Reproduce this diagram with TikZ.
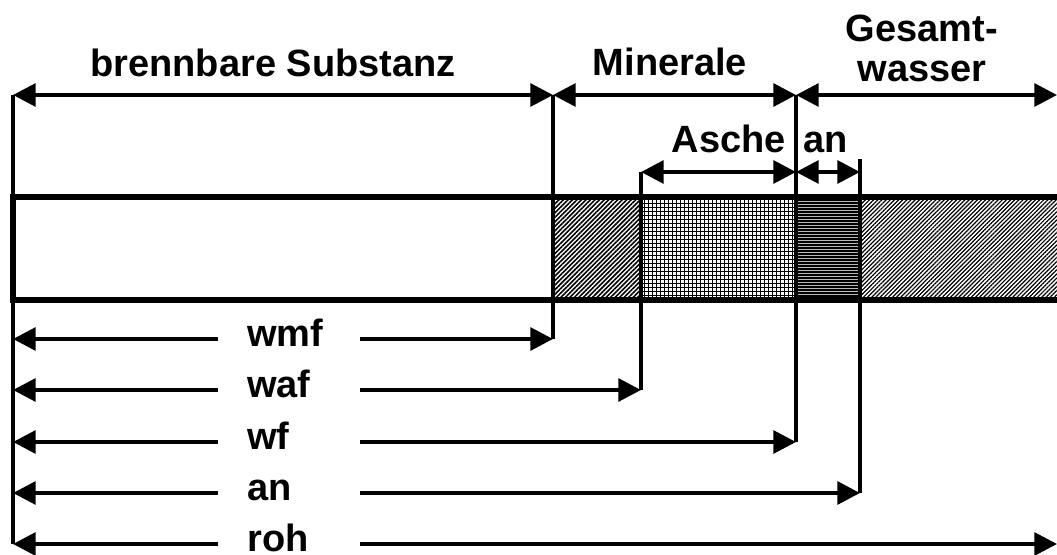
\documentclass[tikz,border=0pt]{standalone}
\usepackage{fontspec}
\setmainfont{Liberation Sans}
\usetikzlibrary{arrows.meta,patterns.meta}
\begin{document}
\begin{tikzpicture}[x=.75pt,y=-.75pt,
	>={Triangle[length=17pt,width=17pt]},
	lbl/.style={font=\fontsize{28.5}{25}\selectfont\bfseries,inner sep=0pt},
	dim/.style={line width=3pt}]
	\useasboundingbox(0,0)rectangle(1057,555);
	% fillings of the bar
	\fill[pattern={Lines[angle=45,distance=2.4pt,line width=1.2pt]}](553,197)rectangle(641,300);
	\fill[pattern={Hatch[distance=3pt,line width=.35pt]}](641,197)rectangle(796,300);
	\fill[gray!55](796,197)rectangle(860,300);
	\foreach \h in {200,203,...,298}
		\draw[line width=1.1pt](796,\h)--(860,\h);
	\fill[pattern={Lines[angle=45,distance=2.2pt,line width=.9pt]}](860,197)rectangle(1057,300);
	\draw[line width=4.5pt](1062,197)--(13,197)--(13,300)--(1062,300);
	% upper dimensions
	\node[lbl,anchor=base](sub)at(273,77){brennbare Substanz};
	\node[lbl,anchor=base](min)at(670,76){Minerale};
	\node[lbl,anchor=base,align=center](ges)at(922,82){Gesamt-\\[5pt]wasser};
	\node[lbl,anchor=base](asche)at(729,153){Asche};
	\node[lbl,anchor=base](ant)at(826,153){an};
	\coordinate(tL)at(13,95);
	\coordinate(tS)at(553,95);
	\coordinate(tW)at(796,95);
	\coordinate(tR)at(1057,95);
	\coordinate(aA)at(641,172);
	\coordinate(aW)at(796,172);
	\coordinate(aN)at(860,172);
	\draw[dim,<->](tL)--(tS);
	\draw[dim,<->](tS)--(tW);
	\draw[dim,<->](tW)--(tR);
	\draw[dim,<->](aA)--(aW);
	\draw[dim,<->](aW)--(aN);
	\draw[dim](tL)--(13,544);
	% lower dimensions
	\foreach \y/\t/\x/\v in {339/wmf/553/95,390/waf/641/172,442/wf/796/95,493/an/860/159,544/roh/1057/544}{
		\node[lbl,anchor=base west](n\t)at(247,\y+8){\t};
		\coordinate(a\t)at(218,\y);
		\coordinate(b\t)at(360,\y);
		\coordinate(e\t)at(\x,\y);
		\coordinate(v\t)at(\x,\v);
		\draw[dim,<-](13,\y)--(a\t);
		\draw[dim,->](b\t)--(e\t);
		\draw[dim](e\t)--(v\t);
	}
\end{tikzpicture}
\end{document}
